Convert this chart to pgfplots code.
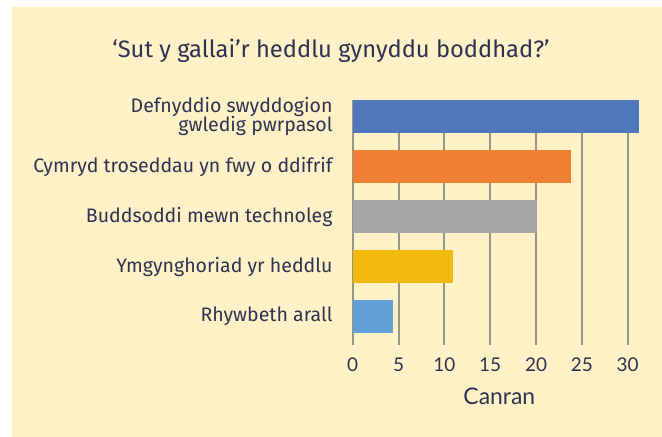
\documentclass[border=0pt]{standalone}
\usepackage{pgfplots}
\pgfplotsset{compat=1.18}
\usepackage{fontspec}
\setmainfont{Fira Sans}
\newfontfamily\tickfont{Lato}
\definecolor{bgyel}{HTML}{FEF1C6}
\definecolor{txt}{HTML}{2E3354}
\definecolor{cblue}{HTML}{4F78BC}
\definecolor{corange}{HTML}{EE7F33}
\definecolor{cgray}{HTML}{A5A5A5}
\definecolor{cyellow}{HTML}{F2B90F}
\definecolor{clblue}{HTML}{62A0D8}
\definecolor{gridc}{HTML}{999689}
\begin{document}
\begin{tikzpicture}
\fill[white] (0bp,0bp) rectangle (662bp,437bp);
\fill[bgyel] (12bp,0bp) rectangle (662bp,430bp);
\node[text=txt,font=\fontsize{23.8}{28}\selectfont] at (331bp,386bp) {‘Sut y gallai’r heddlu gynyddu boddhad?’};
\begin{axis}[
  at={(352.7bp,92bp)}, anchor=south west,
  scale only axis, width=293.3bp, height=245bp,
  xmin=0, xmax=32, ymin=-0.57, ymax=4.33,
  xtick={0,5,...,30}, ytick={0,1,2,3,4},
  yticklabels={Rhywbeth arall,Ymgynghoriad yr heddlu,Buddsoddi mewn technoleg,Cymryd troseddau yn fwy o ddifrif,{Defnyddio swyddogion\\gwledig pwrpasol}},
  axis line style={draw=none}, major tick length=0pt,
  xmajorgrids, grid style={gridc, line width=2bp},
  xticklabel style={font=\tickfont\fontsize{19}{21}\selectfont, text=txt, yshift=-9bp},
  yticklabel style={font=\fontsize{19.6}{19.5}\selectfont, text=txt, align=right, inner sep=0pt, xshift=-20bp},
  xlabel={Canran}, xlabel style={font=\tickfont\fontsize{23}{25}\selectfont, text=txt, yshift=-10bp},
  /pgf/number format/assume math mode=true,
  xbar, bar width=33bp, bar shift=0pt,
]
\addplot[draw=none, fill=cblue] coordinates {(31.2,4)};
\addplot[draw=none, fill=corange] coordinates {(23.8,3)};
\addplot[draw=none, fill=cgray] coordinates {(20.1,2)};
\addplot[draw=none, fill=cyellow] coordinates {(10.9,1)};
\addplot[draw=none, fill=clblue] coordinates {(4.4,0)};
\end{axis}
\end{tikzpicture}
\end{document}
